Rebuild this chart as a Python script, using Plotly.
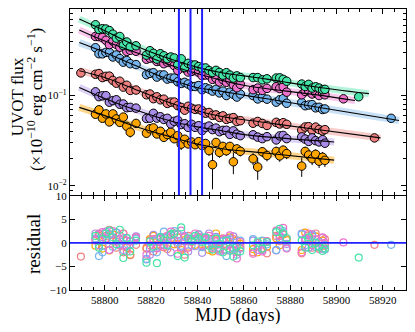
import plotly.graph_objects as go
from plotly.subplots import make_subplots

# observation epochs (MJD) shared by all UVOT filters
epochs = [58796, 58797.5, 58799, 58800.5, 58802, 58803.5, 58805, 58806.5, 58808, 58809.5, 58811, 58813.5,
          58818, 58819.5, 58821, 58822.5, 58824, 58825.5, 58827, 58828.5, 58830, 58831.5, 58833, 58834.5, 58836, 58837.5,
          58839, 58840.5, 58842, 58843.5, 58845, 58846.5, 58848, 58849.5, 58851, 58852.5, 58854, 58855.5, 58857, 58858.5,
          58864, 58866, 58868, 58870,
          58874, 58875.5, 58877, 58878.5,
          58885, 58886.5, 58888, 58889.5, 58891, 58892.5, 58894, 58895]

# fluxes (1e-10 erg/cm2/s)
green_f = [0.606, 0.538, 0.548, 0.544, 0.523, 0.477, 0.431, 0.450, 0.357, 0.391, 0.345, 0.355,
           0.280, 0.313, 0.293, 0.253, 0.290, 0.275, 0.256, 0.267, 0.260, 0.218, 0.255, 0.204, 0.227, 0.218,
           0.218, 0.209, 0.201, 0.202, 0.189, 0.180, 0.190, 0.180, 0.168, 0.179, 0.168, 0.156, 0.165, 0.158,
           0.158, 0.158, 0.149, 0.153,
           0.156, 0.157, 0.151, 0.144,
           0.134, 0.126, 0.133, 0.121, 0.125, 0.121, 0.116, 0.117]
pink_f = [0.450, 0.449, 0.438, 0.408, 0.366, 0.399, 0.368, 0.342, 0.356, 0.307, 0.317, 0.309,
          0.252, 0.259, 0.261, 0.238, 0.240, 0.225, 0.234, 0.233, 0.214, 0.190, 0.215, 0.200, 0.182, 0.185,
          0.189, 0.181, 0.166, 0.169, 0.168, 0.151, 0.155, 0.141, 0.150, 0.140, 0.147, 0.132, 0.122, 0.133,
          0.116, 0.121, 0.114, 0.120,
          0.125, 0.120, 0.125, 0.109,
          0.102, 0.111, 0.113, 0.104, 0.108, 0.100, 0.107, 0.102]
blue_f = [0.338, 0.290, 0.289, 0.300, 0.300, 0.267, 0.281, 0.256, 0.234, 0.244, 0.225, 0.220,
          0.170, 0.176, 0.179, 0.160, 0.169, 0.169, 0.152, 0.156, 0.156, 0.142, 0.136, 0.140, 0.134, 0.126,
          0.126, 0.129, 0.116, 0.122, 0.118, 0.112, 0.117, 0.107, 0.112, 0.100, 0.109, 0.103, 0.0962, 0.104,
          0.100, 0.0917, 0.0954, 0.0912,
          0.0845, 0.0899, 0.0925, 0.0821,
          0.0838, 0.0772, 0.0786, 0.0794, 0.0731, 0.0742, 0.0701, 0.0711]
salmon_f = [0.172, 0.175, 0.158, 0.163, 0.164, 0.147, 0.137, 0.144, 0.124, 0.130, 0.114, 0.115,
            0.102, 0.104, 0.0923, 0.0968, 0.0897, 0.0912, 0.0819, 0.0846, 0.0848, 0.0773, 0.0739, 0.0689, 0.0761, 0.0723,
            0.0703, 0.0711, 0.0681, 0.0638, 0.0650, 0.0604, 0.0611, 0.0572, 0.0596, 0.0545, 0.0560, 0.0570, 0.0516, 0.0527,
            0.0494, 0.0517, 0.0491, 0.0467,
            0.0506, 0.0485, 0.0501, 0.0481,
            0.0414, 0.0449, 0.0453, 0.0414, 0.0448, 0.0421, 0.0406, 0.0420]
purple_f = [0.110, 0.0972, 0.0994, 0.0997, 0.0844, 0.0880, 0.0898, 0.0800, 0.0807, 0.0734, 0.0741, 0.0726,
            0.0558, 0.0562, 0.0636, 0.0563, 0.0583, 0.0544, 0.0560, 0.0486, 0.0519, 0.0533, 0.0478, 0.0488, 0.0445, 0.0481,
            0.0445, 0.0464, 0.0410, 0.0445, 0.0460, 0.0420, 0.0437, 0.0398, 0.0412, 0.0413, 0.0372, 0.0407, 0.0374, 0.0360,
            0.0368, 0.0347, 0.0334, 0.0351,
            0.0323, 0.0358, 0.0362, 0.0334,
            0.0349, 0.0330, 0.0311, 0.0340, 0.0317, 0.0307, 0.0325, 0.0297]
orange_f = [0.0621, 0.0695, 0.0561, 0.0627, 0.0511, 0.0627, 0.0551, 0.0505, 0.0578, 0.0457, 0.0393, 0.0492,
            0.0383, 0.0430, 0.0439, 0.0376, 0.0403, 0.0345, 0.0371, 0.0393, 0.0333, 0.0360, 0.0290, 0.0329, 0.0292, 0.0306,
            0.0286, 0.0309, 0.0280, 0.0295, 0.0246, 0.0172, 0.0303, 0.0235, 0.0274, 0.0245, 0.0274, 0.0185, 0.0257, 0.0242,
            0.0200, 0.0162, 0.0239, 0.0217,
            0.0241, 0.0215, 0.0249, 0.0228,
            0.0166, 0.0241, 0.0220, 0.0200, 0.0224, 0.0188, 0.0208, 0.0192]
orange_err = [0.004, 0.004, 0.004, 0.004, 0.004, 0.004, 0.004, 0.004, 0.004, 0.004, 0.005, 0.004,
              0.004, 0.003, 0.003, 0.003, 0.003, 0.003, 0.003, 0.003, 0.003, 0.003, 0.004, 0.003, 0.003, 0.003,
              0.003, 0.003, 0.003, 0.003, 0.003, 0.008, 0.003, 0.003, 0.003, 0.003, 0.003, 0.005, 0.003, 0.003,
              0.003, 0.0045, 0.003, 0.003,
              0.003, 0.003, 0.003, 0.003,
              0.004, 0.003, 0.003, 0.003, 0.003, 0.003, 0.003, 0.003]

# residuals (sigma)
green_r = [1.5, -1.0, 0.8, 2.0, 2.6, 1.2, -0.3, 2.8, -3.2, 1.0, -1.8, 0.5,
           -4.2, 0.3, -0.8, -4.3, 1.2, 0.6, -0.5, 1.8, 2.0, -2.8, 3.3, -3.1, 1.0, 0.4,
           1.5, 0.8, 0.2, 1.2, -0.6, -1.4, 0.9, -0.2, -2.0, 0.5, -1.2, -2.9, -0.8, -1.8,
           -0.5, 0.3, -1.2, 0.2,
           2.3, 3.0, 2.1, 1.0,
           0.5, -1.0, 1.2, -1.5, 0.0, -0.8, -1.7, -1.2]
pink_r = [0.5, 1.8, 2.3, 1.0, -1.5, 2.5, 0.8, -0.5, 2.0, -1.8, 0.3, 1.2,
          -2.5, -0.5, 0.8, -1.2, 0.2, -0.8, 1.5, 2.4, 0.6, -2.3, 2.6, 1.2, -1.0, 0.3,
          2.0, 1.3, -0.5, 0.8, 1.5, -1.2, 0.5, -1.8, 0.9, -0.6, 1.6, -1.5, -3.3, 0.2,
          -2.3, -0.5, -1.8, 0.4,
          2.6, 1.5, 3.2, -1.2,
          -2.0, 1.0, 2.0, -0.5, 0.8, -1.3, 1.2, 0.0]
blue_r = [1.0, -2.8, -2.0, 0.5, 1.8, -0.8, 2.2, 0.3, -1.5, 1.1, -0.3, 0.9,
          -3.5, -1.2, 0.5, -2.0, 1.3, 2.4, -0.4, 1.6, 2.5, 0.2, -0.6, 1.5, 0.8, -0.5,
          0.6, 1.8, -0.9, 1.2, 0.4, -0.8, 1.0, -1.5, 0.3, -2.8, 0.7, -1.0, -2.5, 0.5,
          0.8, -1.5, 0.5, -0.3,
          -1.5, 1.0, 2.5, -1.0,
          1.8, -0.5, 0.6, 1.5, -0.8, 0.2, -1.2, -0.4]
salmon_r = [0.8, 2.0, -0.6, 1.5, 2.8, 0.3, -1.0, 1.6, -2.0, 0.5, -2.6, -0.4,
            -1.0, 0.5, -1.8, 0.9, -0.5, 1.2, -1.3, 0.8, 2.0, -0.3, -1.0, -2.5, 1.5, 0.6,
            0.5, 1.8, 1.0, -0.4, 0.9, -0.8, 0.3, -1.2, 0.6, -1.6, -0.3, 0.8, -2.0, -0.9,
            -2.0, 0.0, -1.2, -2.2,
            1.5, 0.4, 2.0, 1.0,
            -2.2, 0.8, 1.6, -1.0, 2.0, 0.2, -0.6, 0.8]
purple_r = [2.0, -0.5, 1.2, 2.4, -1.5, 0.6, 2.2, -0.2, 1.0, -0.8, 0.4, 1.4,
            -3.4, -2.5, 1.7, -1.0, 0.8, -0.4, 1.2, -2.0, 0.5, 1.8, -0.8, 0.3, -1.8, 0.9,
            -0.7, 1.0, -2.1, 0.6, 2.0, -0.3, 1.3, -1.0, 0.4, 0.9, -1.6, 1.4, -0.5, -1.2,
            0.5, -0.8, -1.5, 0.2,
            -1.6, 1.5, 2.0, -0.2,
            2.0, 0.5, -1.0, 1.8, 0.0, -0.7, 1.1, -1.4]
orange_r = [-0.6, 1.5, -1.2, 0.8, -1.6, 1.8, 0.3, -0.5, 2.0, -1.0, -2.5, 1.2,
            -1.2, 0.8, 1.5, -0.4, 1.0, -0.9, 0.5, 1.8, -0.3, 1.2, -1.5, 0.6, -0.8, 0.2,
            -0.4, 1.0, -0.2, 0.8, -1.5, -1.8, 2.0, -1.4, 0.9, -0.6, 1.2, -1.6, 0.5, -0.2,
            -1.3, -2.0, 0.4, -0.8,
            1.0, -0.5, 1.8, 0.6,
            -1.5, 2.2, 0.8, -0.4, 1.4, -1.0, 0.5, -0.6]

# late / early single visits per filter
salmon_extra_t = [58789.7, 58916.4]
salmon_extra_f = [0.178, 0.034]
salmon_extra_r = [-2.9, -0.4]
blue_extra_t = [58923.6]
blue_extra_f = [0.056]
blue_extra_r = [-0.4]
green_extra_t = [58909.6]
green_extra_f = [0.097]
green_extra_r = [-3.1]
pink_extra_t = [58903.0]
pink_extra_f = [0.092]
pink_extra_r = [0.1]

# power-law fits
green_fit_t = [58789, 58800, 58815, 58830, 58840, 58850, 58860, 58870, 58880, 58890, 58900, 58914]
green_fit_f = [0.70, 0.52, 0.34, 0.245, 0.205, 0.18, 0.165, 0.152, 0.138, 0.126, 0.116, 0.105]
pink_fit_t = [58789, 58800, 58815, 58830, 58840, 58850, 58860, 58870, 58890, 58908]
pink_fit_f = [0.53, 0.40, 0.29, 0.21, 0.175, 0.148, 0.13, 0.119, 0.103, 0.088]
blue_fit_t = [58789, 58800, 58815, 58824, 58832, 58840, 58850, 58860, 58870, 58890, 58927]
blue_fit_f = [0.385, 0.30, 0.205, 0.163, 0.14, 0.122, 0.112, 0.101, 0.092, 0.0757, 0.053]
salmon_fit_t = [58789, 58800, 58815, 58830, 58840, 58850, 58870, 58890, 58919]
salmon_fit_f = [0.188, 0.158, 0.112, 0.08, 0.068, 0.059, 0.05, 0.0426, 0.034]
purple_fit_t = [58789, 58800, 58815, 58830, 58840, 58850, 58860, 58875, 58899]
purple_fit_f = [0.123, 0.093, 0.067, 0.051, 0.045, 0.041, 0.037, 0.034, 0.0307]
orange_fit_t = [58789, 58800, 58815, 58830, 58840, 58850, 58870, 58899]
orange_fit_f = [0.074, 0.060, 0.044, 0.034, 0.029, 0.026, 0.023, 0.0193]

vlines = [58832, 58837, 58842]

colors = {'orange': '#FFA500', 'salmon': '#F08080', 'purple': '#A98CE8',
          'blue': '#75B4EC', 'pink': '#EE72CC', 'green': '#44E3A6'}
band_rgba = {'orange': 'rgba(255,165,0,0.45)', 'salmon': 'rgba(240,128,128,0.4)', 'purple': 'rgba(169,140,232,0.4)',
             'blue': 'rgba(117,180,236,0.4)', 'pink': 'rgba(238,114,204,0.4)', 'green': 'rgba(68,227,166,0.4)'}

bands = [
    ('orange', epochs, orange_f, orange_r, orange_fit_t, orange_fit_f, orange_err),
    ('salmon', salmon_extra_t[:1] + epochs + salmon_extra_t[1:], salmon_extra_f[:1] + salmon_f + salmon_extra_f[1:],
     salmon_extra_r[:1] + salmon_r + salmon_extra_r[1:], salmon_fit_t, salmon_fit_f, None),
    ('purple', epochs, purple_f, purple_r, purple_fit_t, purple_fit_f, None),
    ('blue', epochs + blue_extra_t, blue_f + blue_extra_f, blue_r + blue_extra_r, blue_fit_t, blue_fit_f, None),
    ('pink', epochs + pink_extra_t, pink_f + pink_extra_f, pink_r + pink_extra_r, pink_fit_t, pink_fit_f, None),
    ('green', epochs + green_extra_t, green_f + green_extra_f, green_r + green_extra_r, green_fit_t, green_fit_f, None),
]

FONT = 'Liberation Serif'

fig = make_subplots(rows=2, cols=1, shared_xaxes=True, row_heights=[0.664, 0.336], vertical_spacing=0.003)

for name, t, f, r, ft, ff, err in bands:
    fig.add_trace(go.Scatter(x=ft, y=ff, mode='lines', line_shape='spline',
                             line=dict(color=band_rgba[name], width=7), hoverinfo='skip'), row=1, col=1)
for name, t, f, r, ft, ff, err in bands:
    ey = dict(type='data', array=err, color='black', thickness=1, width=0) if err else None
    fig.add_trace(go.Scatter(x=t, y=f, mode='markers', error_y=ey,
                             marker=dict(color=colors[name], size=8.5, line=dict(color='black', width=1))),
                  row=1, col=1)
for name, t, f, r, ft, ff, err in bands:
    fig.add_trace(go.Scatter(x=ft, y=ff, mode='lines', line_shape='spline',
                             line=dict(color='black', width=1.1)), row=1, col=1)
    fig.add_trace(go.Scatter(x=t, y=r, mode='markers',
                             marker=dict(symbol='circle-open', color=colors[name], size=7, line=dict(width=1.2))),
                  row=2, col=1)

for v in vlines:
    fig.add_shape(type='line', x0=v, x1=v, y0=0, y1=1, xref='x', yref='y domain',
                  line=dict(color='#1f1fff', width=2))
fig.add_shape(type='line', x0=0, x1=1, y0=0, y1=0, xref='x2 domain', yref='y2',
              line=dict(color='#1f1fff', width=1.8))

axis_style = dict(showline=True, linecolor='black', linewidth=1.2, mirror='ticks', ticks='inside',
                  ticklen=5, tickwidth=1, tickcolor='black', showgrid=False, zeroline=False, automargin=False,
                  tickfont=dict(family=FONT, size=11, color='black'))
minor_x = dict(ticks='inside', ticklen=3, tickwidth=1, tickcolor='black', dtick=5, showgrid=False)

fig.update_xaxes(range=[58785, 58930], tickvals=[58800, 58820, 58840, 58860, 58880, 58900, 58920],
                 ticktext=['58800', '58820', '58840', '58860', '58880', '58900', '58920'],
                 minor=minor_x, **axis_style)
fig.update_xaxes(showticklabels=False, row=1, col=1)

log_minor = [0.008, 0.009] + [k / 100 for k in range(2, 10)] + [k / 10 for k in range(2, 10)]
fig.update_yaxes(type='log', range=[-2.1, -0.043], tickvals=[0.01, 0.1],
                 ticktext=['10<sup>−2</sup>', '10<sup>−1</sup>'],
                 minor=dict(ticks='inside', ticklen=3, tickwidth=1, tickcolor='black', tickvals=log_minor, showgrid=False),
                 row=1, col=1, **axis_style)
fig.update_yaxes(range=[-10, 10], tickvals=[-10, -5, 0, 5, 10], ticktext=['−10', '−5', '0', '5', '10'],
                 row=2, col=1, **axis_style)

label = dict(xref='paper', yref='paper', showarrow=False, xanchor='center', yanchor='middle')
fig.add_annotation(text='UVOT flux', x=-0.154, y=0.687, textangle=-90,
                   font=dict(family=FONT, size=17, color='black'), **label)
fig.add_annotation(text='(×10<sup>−10</sup> erg cm<sup>−2</sup> s<sup>−1</sup>)', x=-0.104, y=0.676, textangle=-90,
                   font=dict(family=FONT, size=17, color='black'), **label)
fig.add_annotation(text='residual', x=-0.107, y=0.164, textangle=-90,
                   font=dict(family=FONT, size=19, color='black'), **label)
fig.add_annotation(text='MJD (days)', x=0.5, y=-0.0925,
                   font=dict(family=FONT, size=18, color='black'), **label)

# the page body adds an 8px margin, so the figure is sized to fit inside it
fig.update_layout(template='none', width=399, height=316, margin=dict(l=62, r=1, t=1, b=34),
                  font=dict(family=FONT, color='black'),
                  plot_bgcolor='white', paper_bgcolor='white', showlegend=False)
fig.write_html("out.html")
